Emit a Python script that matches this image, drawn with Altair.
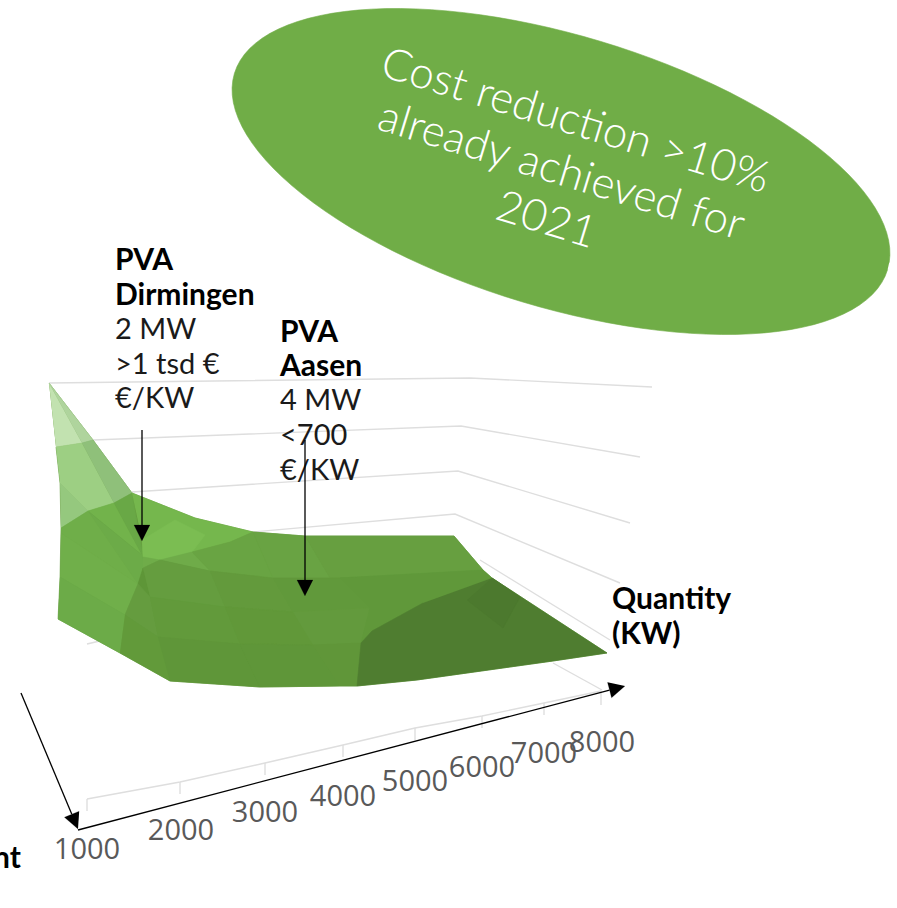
import math
import altair as alt
import pandas as pd

W, H = 897, 908

# Back-wall and floor grid lines of the 3D plot, front to back
grid_lines = [
    [(49, 383), (470, 378), (652, 387)],
    [(93, 440), (461, 426), (640, 457)],
    [(132, 492), (458, 471), (630, 523)],
    [(253, 532), (455, 514), (620, 583)],
    [(480, 560), (610, 640)],
    [(553, 663), (602, 690)],
    [(87, 644), (104, 640)],
    [(87, 799), (180, 782), (265, 763), (343, 745), (415, 728), (482, 716), (544, 703), (601, 691)],
    [(87, 799), (87, 811)],
    [(180, 782), (180, 794)],
    [(265, 763), (265, 775)],
    [(343, 745), (343, 757)],
    [(415, 728), (415, 740)],
    [(482, 716), (482, 728)],
    [(544, 703), (544, 715)],
    [(601, 691), (601, 705)],
]

# Whole surface silhouette, laid under the facets
surface_outline = [
    (49, 383), (93, 440), (132, 493), (195, 518), (253, 532), (305, 536), (454, 536),
    (483, 570), (492, 578), (607, 653), (553, 661), (417, 680), (357, 686), (340, 686),
    (260, 687), (170, 681), (120, 653), (58, 619), (60, 577), (61, 528), (60, 483), (56, 447),
]

# Highest cost band at the small-quantity corner
top_facets = [
    ("#c2e2b0", [(49, 383), (82, 443), (56, 447)]),
    ("#afd49d", [(49, 383), (93, 440), (82, 443)]),
    ("#9dcf83", [(56, 447), (82, 443), (114, 503), (88, 511), (60, 483)]),
    ("#95c87e", [(60, 483), (88, 511), (61, 528)]),
    ("#8fc07a", [(82, 443), (93, 440), (132, 493), (114, 503)]),
]

# Mid band on the left flank
left_facets = [
    ("#72b34b", [(88, 511), (114, 503), (142, 555)]),
    ("#69a846", [(114, 503), (132, 493), (145, 567), (142, 555)]),
    ("#6cab48", [(88, 511), (142, 555), (145, 567), (138, 584)]),
    ("#6fae49", [(61, 528), (88, 511), (138, 584), (61, 533)]),
    ("#70af4a", [(61, 533), (138, 584), (125, 615), (60, 577)]),
    ("#6cab48", [(60, 577), (125, 615), (120, 653), (58, 619)]),
]

# Bright ridge and the band just behind the front rows
ridge_facets = [
    ("#75b74d", [(132, 493), (195, 518), (253, 532), (230, 542), (192, 552), (160, 560), (143, 557), (142, 540)]),
    ("#7bbd52", [(142, 540), (175, 520), (205, 535), (192, 552), (160, 560), (143, 557)]),
    ("#6fac49", [(143, 557), (160, 560), (143, 568)]),
    ("#6fab49", [(160, 560), (192, 552), (210, 571)]),
    ("#69a443", [(192, 552), (230, 542), (253, 532), (273, 578), (210, 571)]),
    ("#69a343", [(253, 532), (305, 536), (330, 578), (273, 578)]),
    ("#679f40", [(305, 536), (454, 536), (483, 570), (330, 578)]),
]

# Front rows of the surface grid
front_facets = [
    ("#5e9638", [(138, 584), (143, 568), (150, 597)]),
    ("#659c3f", [(125, 615), (138, 584), (150, 597), (158, 637)]),
    ("#629a3a", [(125, 615), (158, 637), (170, 681), (120, 653)]),
    ("#659d3f", [(143, 568), (160, 560), (210, 571), (225, 607), (150, 597)]),
    ("#639a3c", [(210, 571), (273, 578), (293, 612), (225, 607)]),
    ("#61993b", [(273, 578), (340, 578), (370, 577), (370, 608), (293, 612)]),
    ("#629a3b", [(150, 597), (225, 607), (240, 644), (158, 637)]),
    ("#619839", [(225, 607), (293, 612), (313, 645), (240, 644)]),
    ("#639a3d", [(293, 612), (370, 608), (361, 643), (313, 645)]),
    ("#5f9639", [(158, 637), (240, 644), (260, 687), (170, 681)]),
    ("#5f9639", [(240, 644), (313, 645), (340, 686), (260, 687)]),
    ("#609639", [(313, 645), (361, 643), (357, 686), (340, 686)]),
    ("#60983a", [(340, 578), (483, 570), (492, 578), (423, 603), (372, 631), (361, 643), (370, 608)]),
]

# Lowest cost band at the large-quantity corner
low_facets = [
    ("#4f7d30", [(492, 578), (607, 653), (553, 661), (417, 680), (357, 686), (361, 643), (372, 631), (423, 603)]),
    ("#4c792e", [(492, 578), (520, 597), (503, 628), (467, 600)]),
]

surface_facets = top_facets + left_facets + ridge_facets + front_facets + low_facets

# Call-out arrows: shaft start and tip
arrows = [
    ((142, 430), (142, 541)),
    ((305, 440), (305, 596)),
    ((21, 693), (78, 829)),
    ((78, 830), (625, 686)),
]

tick_labels = ["1000", "2000", "3000", "4000", "5000", "6000", "7000", "8000"]
tick_x = [87, 181, 265, 343, 415, 482, 544, 602]
tick_y = [850, 831, 813, 797, 782, 768, 754, 743]

# Left-aligned annotation lines: text, x, y, bold
notes = [
    ("PVA", 115, 261, True),
    ("Dirmingen", 115, 296, True),
    ("2 MW", 115, 330, False),
    (">1 tsd €", 115, 365, False),
    ("€/KW", 115, 399, False),
    ("PVA", 280, 333, True),
    ("Aasen", 280, 367, True),
    ("4 MW", 280, 401, False),
    ("<700", 280, 436, False),
    ("€/KW", 280, 471, False),
    ("Quantity", 612, 600, True),
    ("(KW)", 612, 635, True),
    ("nt", -7, 859, True),
]

# Text inside the tilted ellipse
bubble_lines = ["Cost reduction >10%", "already achieved for", "2021"]
bubble_x = [575, 561, 546]
bubble_y = [122, 172, 221]
bubble_angle = 17

# Ellipse outline parameters
ell_cx, ell_cy, ell_a, ell_b, ell_tilt = 561, 171.5, 341, 136, 16.7

x_enc = alt.X("x:Q", scale=alt.Scale(domain=[0, W]), axis=None)
y_enc = alt.Y("y:Q", scale=alt.Scale(domain=[H, 0]), axis=None)


def polygons_frame(items):
    rows = []
    for pid, (col, pts) in enumerate(items):
        for k, (px, py) in enumerate(pts):
            rows.append({"poly": pid, "k": k, "col": col, "x": px, "y": py})
    return pd.DataFrame(rows)


def polygon_layer(items, stroke_width=0.6):
    return (
        alt.Chart(polygons_frame(items))
        .mark_line(strokeWidth=stroke_width, clip=False)
        .encode(
            x=x_enc,
            y=y_enc,
            order="k:Q",
            detail="poly:N",
            color=alt.Color("col:N", scale=None),
            fill=alt.Fill("col:N", scale=None),
        )
    )


# Ellipse drawn as a closed outline
ellipse_pts = []
tilt = math.radians(ell_tilt)
for i in range(120):
    t = 2 * math.pi * i / 120
    ex, ey = ell_a * math.cos(t), ell_b * math.sin(t)
    ellipse_pts.append((ell_cx + ex * math.cos(tilt) - ey * math.sin(tilt),
                        ell_cy + ex * math.sin(tilt) + ey * math.cos(tilt)))

# Arrow shafts and heads
shaft_rows, heads = [], []
for aid, ((x0, y0), (x1, y1)) in enumerate(arrows):
    d = math.hypot(x1 - x0, y1 - y0)
    ux, uy = (x1 - x0) / d, (y1 - y0) / d
    bx, by = x1 - ux * 16, y1 - uy * 16
    shaft_rows += [{"a": aid, "k": 0, "x": x0, "y": y0}, {"a": aid, "k": 1, "x": bx, "y": by}]
    heads.append(("#000000", [(x1, y1), (bx - uy * 8, by + ux * 8), (bx + uy * 8, by - ux * 8)]))

grid_rows = [
    {"g": g, "k": k, "x": px, "y": py}
    for g, line in enumerate(grid_lines)
    for k, (px, py) in enumerate(line)
]
grid = (
    alt.Chart(pd.DataFrame(grid_rows))
    .mark_line(color="#dedede", strokeWidth=1.4)
    .encode(x=x_enc, y=y_enc, order="k:Q", detail="g:N")
)

shafts = (
    alt.Chart(pd.DataFrame(shaft_rows))
    .mark_line(color="#000000", strokeWidth=1.3)
    .encode(x=x_enc, y=y_enc, order="k:Q", detail="a:N")
)

ticks = (
    alt.Chart(pd.DataFrame({"t": tick_labels, "x": tick_x, "y": tick_y}))
    .mark_text(font="Open Sans", fontSize=29, color="#595959", align="center", baseline="middle")
    .encode(x=x_enc, y=y_enc, text="t:N")
)

notes_df = pd.DataFrame(notes, columns=["t", "x", "y", "bold"])
notes_reg = (
    alt.Chart(notes_df[~notes_df.bold])
    .mark_text(font="Lato", fontSize=29, color="#1a1a1a", align="left", baseline="middle")
    .encode(x=x_enc, y=y_enc, text="t:N")
)
notes_bold = (
    alt.Chart(notes_df[notes_df.bold])
    .mark_text(font="Lato", fontSize=30, fontWeight="bold", color="#000000", align="left", baseline="middle")
    .encode(x=x_enc, y=y_enc, text="t:N")
)

bubble_text = (
    alt.Chart(pd.DataFrame({"t": bubble_lines, "x": bubble_x, "y": bubble_y}))
    .mark_text(font="Lato", fontSize=44, fontWeight=300, color="#ffffff", align="center",
               baseline="middle", angle=bubble_angle)
    .encode(x=x_enc, y=y_enc, text="t:N")
)

chart = (
    alt.layer(
        grid,
        polygon_layer([("#639a3c", surface_outline)]),
        polygon_layer(surface_facets),
        polygon_layer([("#70ad47", ellipse_pts)]),
        bubble_text,
        notes_reg,
        notes_bold,
        ticks,
        shafts,
        polygon_layer(heads, 0.2),
    )
    .properties(width=W, height=H, padding=0, autosize=alt.AutoSizeParams(type="none"), background="#ffffff")
    .configure_view(stroke=None)
)

chart.save("out.html", embed_options={"renderer": "svg", "actions": False})
